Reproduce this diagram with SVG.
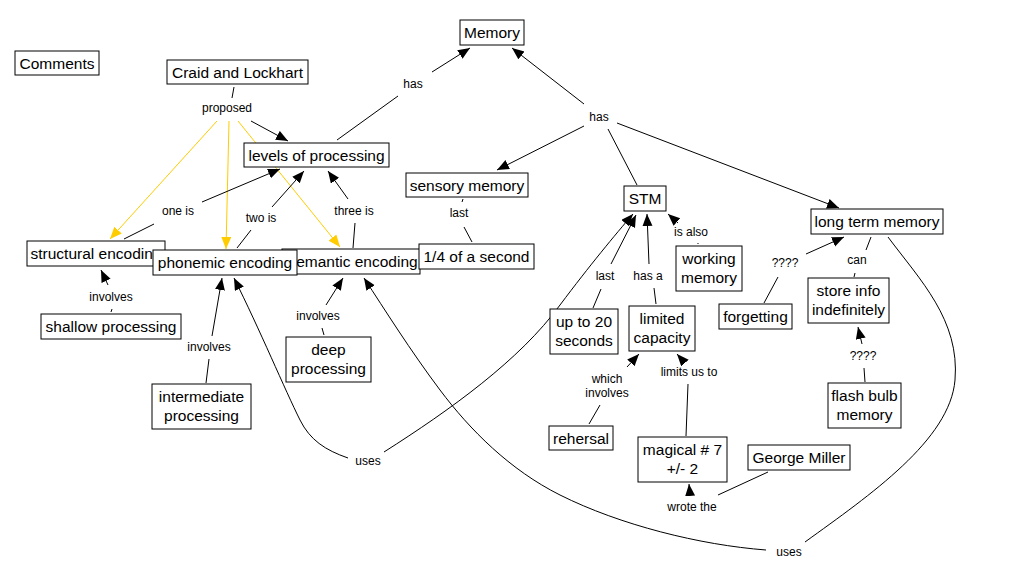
<svg xmlns="http://www.w3.org/2000/svg" width="1013" height="584" viewBox="0 0 1013 584">
<style>
.n rect{fill:#fff;stroke:#000;stroke-width:1}
.n text{font-family:"Liberation Sans",Arial,sans-serif;font-size:15.5px;fill:#000;text-anchor:middle}
.l{font-family:"Liberation Sans",Arial,sans-serif;font-size:12px;fill:#000;text-anchor:middle}
.c path{fill:none;stroke:#000;stroke-width:1}
.c path.y{stroke:#FFCC00}
</style>
<defs>
<marker id="a" markerUnits="userSpaceOnUse" markerWidth="13" markerHeight="11" refX="12" refY="5" orient="auto"><path d="M0,0 L12,5 L0,10 z" fill="#000"/></marker>
<marker id="ay" markerUnits="userSpaceOnUse" markerWidth="13" markerHeight="11" refX="12" refY="5" orient="auto"><path d="M0,0 L12,5 L0,10 z" fill="#FFCC00"/></marker>
</defs>
<rect width="1013" height="584" fill="#fff"/>
<g id="connectors" class="c">
<path class="y" d="M217,121 L110,239" marker-end="url(#ay)"/>
<path class="y" d="M229,121 L226,249" marker-end="url(#ay)"/>
<path class="y" d="M238,121 L340,247" marker-end="url(#ay)"/>
<path d="M234,87 L232,98"/>
<path d="M251,121 L288,141" marker-end="url(#a)"/>
<path d="M337,140 L398,96"/>
<path d="M432,72 L470,48" marker-end="url(#a)"/>
<path d="M584,104 L512,48" marker-end="url(#a)"/>
<path d="M584,126 L497,170" marker-end="url(#a)"/>
<path d="M608,129 L637,185"/>
<path d="M617,123 L839,208" marker-end="url(#a)"/>
<path d="M463,199 L462,202"/>
<path d="M464,227 L472,242"/>
<path d="M124,239 L154,224"/>
<path d="M202,202 L280,169" marker-end="url(#a)"/>
<path d="M237,248 L251,230"/>
<path d="M272,207 L304,171" marker-end="url(#a)"/>
<path d="M353,248 L355,223"/>
<path d="M348,199 L328,171" marker-end="url(#a)"/>
<path d="M112,309 L111,312"/>
<path d="M108,285 L101,270" marker-end="url(#a)"/>
<path d="M206,383 L209,359"/>
<path d="M212,336 L222,278" marker-end="url(#a)"/>
<path d="M324,335 L322,328"/>
<path d="M326,305 L343,278" marker-end="url(#a)"/>
<path d="M348,458 C325,450 310,440 300,420 C285,390 260,330 234,278" marker-end="url(#a)"/>
<path d="M384,452 C450,410 520,360 560,305 C590,265 615,235 633,214" marker-end="url(#a)"/>
<path d="M766,550 C700,545 620,525 560,495 C510,470 470,430 440,390 C410,350 385,310 364,278" marker-end="url(#a)"/>
<path d="M805,542 C870,495 950,440 955,380 C960,320 920,280 888,237"/>
<path d="M593,308 L601,289"/>
<path d="M611,264 L636,215" marker-end="url(#a)"/>
<path d="M656,304 L654,288"/>
<path d="M649,264 L647,214" marker-end="url(#a)"/>
<path d="M698,243 L698,244"/>
<path d="M678,223 L668,214" marker-end="url(#a)"/>
<path d="M589,424 L600,405"/>
<path d="M627,367 L639,354" marker-end="url(#a)"/>
<path d="M686,436 L688,384"/>
<path d="M685,363 L677,354" marker-end="url(#a)"/>
<path d="M768,472 L718,495"/>
<path d="M690,495 L689,484" marker-end="url(#a)"/>
<path d="M764,303 L778,277"/>
<path d="M806,254 L844,237" marker-end="url(#a)"/>
<path d="M871,237 L866,250"/>
<path d="M855,273 L854,277"/>
<path d="M865,382 L864,368"/>
<path d="M862,344 L858,327" marker-end="url(#a)"/>
</g>
<g id="labels">
<text class="l" x="227" y="112">proposed</text>
<text class="l" x="413" y="88">has</text>
<text class="l" x="599" y="121">has</text>
<text class="l" x="459" y="217">last</text>
<text class="l" x="178" y="215">one is</text>
<text class="l" x="261" y="222">two is</text>
<text class="l" x="354" y="215">three is</text>
<text class="l" x="111" y="301">involves</text>
<text class="l" x="209" y="351">involves</text>
<text class="l" x="318" y="320">involves</text>
<text class="l" x="368" y="465">uses</text>
<text class="l" x="789" y="556">uses</text>
<text class="l" x="605" y="280">last</text>
<text class="l" x="648" y="280">has a</text>
<text class="l" x="691" y="236">is also</text>
<text class="l" x="785" y="267">????</text>
<text class="l" x="857" y="264">can</text>
<text class="l" x="863" y="360">????</text>
<text class="l" x="607" y="383">which</text>
<text class="l" x="607" y="397">involves</text>
<text class="l" x="689" y="376">limits us to</text>
<text class="l" x="692" y="511">wrote the</text>
</g>
<g id="comments" class="n"><rect x="15" y="51" width="84" height="24"/><text x="57" y="69">Comments</text></g>
<g id="craid" class="n"><rect x="167" y="60" width="141" height="24"/><text x="237.5" y="78">Craid and Lockhart</text></g>
<g id="memory" class="n"><rect x="460" y="20" width="64" height="25"/><text x="492" y="38">Memory</text></g>
<g id="levels" class="n"><rect x="244" y="143" width="145" height="24"/><text x="316.5" y="161">levels of processing</text></g>
<g id="sensory" class="n"><rect x="406" y="173" width="122" height="24"/><text x="467" y="191">sensory memory</text></g>
<g id="stm" class="n"><rect x="624" y="186" width="42" height="25"/><text x="645" y="204">STM</text></g>
<g id="ltm" class="n"><rect x="811" y="209" width="132" height="25"/><text x="877" y="227">long term memory</text></g>
<g id="structural" class="n"><rect x="27" y="241" width="138" height="25"/><text x="96" y="259">structural encoding</text></g>
<g id="semantic" class="n"><rect x="282" y="249" width="138" height="25"/><text x="353" y="267">semantic encoding</text></g>
<g id="phonemic" class="n"><rect x="153" y="250" width="144" height="25"/><text x="225" y="268">phonemic encoding</text></g>
<g id="quarter" class="n"><rect x="419" y="244" width="115" height="25"/><text x="476.5" y="262">1/4 of a second</text></g>
<g id="working" class="n"><rect x="676" y="246" width="66" height="45"/><text x="709" y="264">working</text><text x="709" y="283">memory</text></g>
<g id="shallow" class="n"><rect x="41" y="314" width="140" height="25"/><text x="111" y="332">shallow processing</text></g>
<g id="forgetting" class="n"><rect x="719" y="304" width="73" height="25"/><text x="755.5" y="322">forgetting</text></g>
<g id="storeinfo" class="n"><rect x="808" y="278" width="81" height="45"/><text x="848.5" y="296">store info</text><text x="848.5" y="315">indefinitely</text></g>
<g id="uptwenty" class="n"><rect x="550" y="309" width="68" height="45"/><text x="584" y="327">up to 20</text><text x="584" y="346">seconds</text></g>
<g id="limited" class="n"><rect x="629" y="306" width="66" height="45"/><text x="662" y="324">limited</text><text x="662" y="343">capacity</text></g>
<g id="deep" class="n"><rect x="286" y="337" width="85" height="45"/><text x="328.5" y="355">deep</text><text x="328.5" y="374">processing</text></g>
<g id="flash" class="n"><rect x="828" y="383" width="73" height="45"/><text x="864.5" y="401">flash bulb</text><text x="864.5" y="420">memory</text></g>
<g id="intermediate" class="n"><rect x="152" y="384" width="99" height="45"/><text x="201.5" y="402">intermediate</text><text x="201.5" y="421">processing</text></g>
<g id="rehersal" class="n"><rect x="549" y="426" width="64" height="24"/><text x="581" y="444">rehersal</text></g>
<g id="magical" class="n"><rect x="638" y="437" width="89" height="45"/><text x="682.5" y="455">magical # 7</text><text x="682.5" y="474">+/- 2</text></g>
<g id="george" class="n"><rect x="748" y="445" width="102" height="25"/><text x="799" y="463">George Miller</text></g>
</svg>
